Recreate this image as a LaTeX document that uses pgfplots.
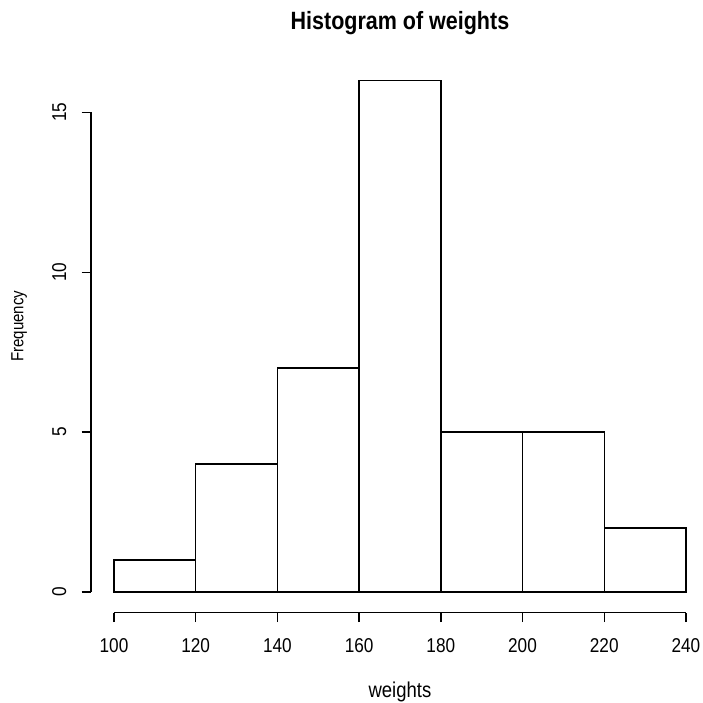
\documentclass[border=0pt]{standalone}
\usepackage{fontspec}
\setmainfont{Liberation Sans}[FakeStretch=0.86]
\usepackage{pgfplots}
\pgfplotsset{compat=1.18}
\begin{document}
\begin{tikzpicture}
\begin{axis}[
  scale only axis,
  width=617.7pt, height=552.6pt,
  xmin=94.4, xmax=245.6, ymin=-0.64, ymax=16.64,
  axis x line*=bottom, axis y line*=left,
  axis line style={draw=none},
  xtick={100,120,...,240}, ytick={0,5,10,15},
  tick align=outside, major tick length=9.6pt,
  tick style={black, line width=1.4pt},
  /pgf/number format/assume math mode=true,
  /pgf/number format/1000 sep={},
  tick label style={font=\fontsize{20}{24}\selectfont},
  xticklabel style={anchor=base, inner sep=0pt, yshift=-30.6pt},
  yticklabel style={xshift=-15.4pt, rotate=90, anchor=base, inner sep=0pt},
  title={Histogram of weights},
  title style={at={(axis description cs:0.5,1)}, anchor=base, yshift=24.6pt, inner sep=0pt, font=\fontsize{25}{30}\selectfont\bfseries},
  xlabel={weights},
  xlabel style={at={(axis description cs:0.5,0)}, anchor=base, yshift=-84.5pt, inner sep=0pt, font=\fontsize{21.5}{26}\selectfont},
  ylabel={Frequency},
  ylabel style={at={([xshift=-67.6pt,yshift=10pt]axis description cs:0,0.5)}, anchor=base, inner sep=0pt, font=\fontsize{17.5}{21}\selectfont},
  clip=false,
]
\addplot[ybar interval, fill=white, draw=black, line width=1.4pt] coordinates {
  (100,1) (120,4) (140,7) (160,16) (180,5) (200,5) (220,2) (240,2)
};
\draw[line width=1.4pt] (axis cs:100,-0.64) -- (axis cs:240,-0.64);
\draw[line width=1.4pt] (axis cs:94.4,0) -- (axis cs:94.4,15);
\end{axis}
\pgfresetboundingbox
\path (-91.1pt,-89.5pt) rectangle (611.9pt,612.5pt);
\end{tikzpicture}
\end{document}
